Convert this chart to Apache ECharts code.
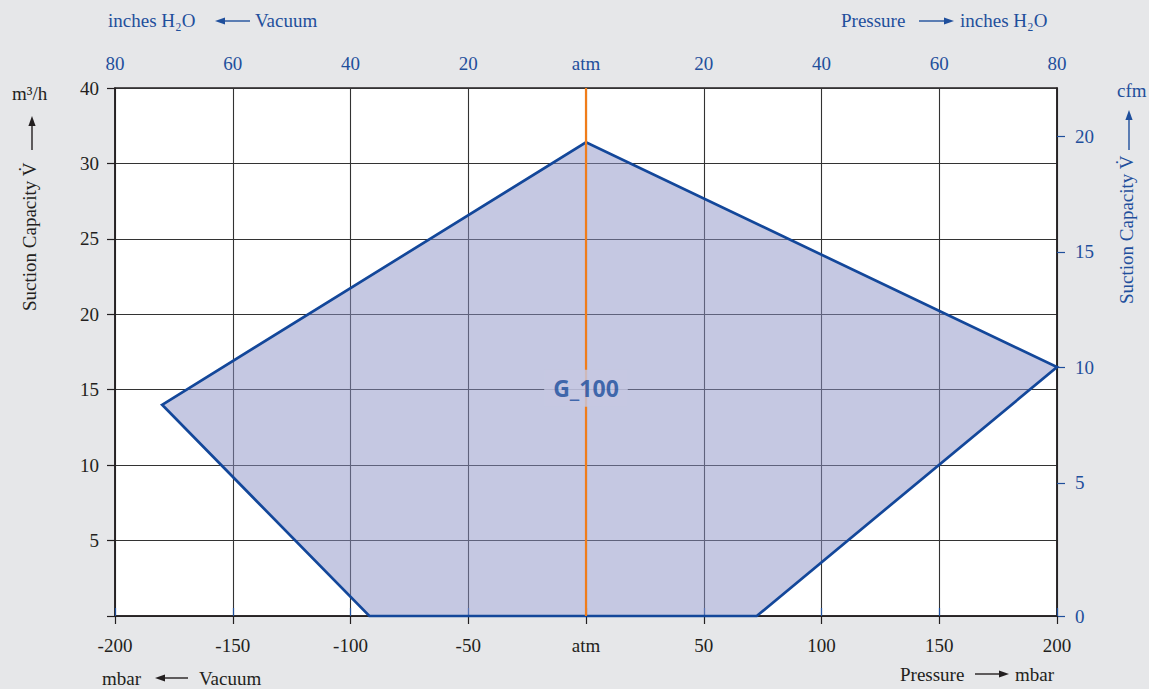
<!DOCTYPE html>
<html><head><meta charset="utf-8">
<script src="https://cdn.jsdelivr.net/npm/echarts@6/dist/echarts.min.js"></script>
<style>html,body{margin:0;padding:0;background:#e6e7e9;}#c{width:1149px;height:689px;}</style>
</head><body><div id="c"></div>
<script>
// ---- data ----
const envelopeMbar = [-180, 0, 200, 72.5, -92];
const envelopeM3h  = [14, 31.4, 16.5, 0, 0];
const atmLineMbar = [0, 0];
const atmLineM3h  = [0, 35];
const curveLabel = 'G_100';
const curveLabelPos = [0, 15.1];
const leftTickLabels = ['', '5', '10', '15', '20', '25', '30', '40']; // at 0,5,...,35
const cfmTickPos = [0, 8.83, 16.47, 24.13, 31.79];
const cfmTickLabels = ['0', '5', '10', '15', '20'];

const DARK = '#231f20', BLUE = '#1f4f9c', ORANGE = '#f07d1a';
const FONT = '"Liberation Serif", "DejaVu Serif", serif';
const FS = 19;

const chart = echarts.init(document.getElementById('c'), null, {renderer: 'svg'});

function txt(x, y, text, color, align, extra) {
  return Object.assign({type: 'text', x: x, y: y, silent: true,
    style: {text: text, fill: color, font: FS + 'px ' + FONT, align: align || 'left', verticalAlign: 'middle'}}, extra || {});
}
function hArrow(x1, x2, y, color) { // head at x2
  const dir = x2 > x1 ? 1 : -1;
  return {type: 'group', silent: true, children: [
    {type: 'line', shape: {x1: x1, y1: y, x2: x2 - dir * 8, y2: y}, style: {stroke: color, lineWidth: 1.4}},
    {type: 'polygon', shape: {points: [[x2, y], [x2 - dir * 10, y - 3.6], [x2 - dir * 10, y + 3.6]]}, style: {fill: color}}
  ]};
}
function vArrow(x, y1, y2, color) { // head at y2 (up)
  return {type: 'group', silent: true, children: [
    {type: 'line', shape: {x1: x, y1: y1, x2: x, y2: y2 + 8}, style: {stroke: color, lineWidth: 1.4}},
    {type: 'polygon', shape: {points: [[x, y2], [x - 3.6, y2 + 10], [x + 3.6, y2 + 10]]}, style: {fill: color}}
  ]};
}

const option = {
  backgroundColor: '#e6e7e9',
  animation: false,
  grid: {left: 115, right: 92, top: 88, bottom: 73, show: true, backgroundColor: '#ffffff', borderColor: DARK, borderWidth: 1.5},
  xAxis: [
    {type: 'value', position: 'bottom', min: -200, max: 200, interval: 50,
     axisLine: {show: true, onZero: false, lineStyle: {color: DARK, width: 1.5}},
     axisTick: {show: true, inside: false, length: 8, lineStyle: {color: DARK, width: 1.2}},
     axisLabel: {color: DARK, fontFamily: FONT, fontSize: FS, margin: 20,
       formatter: v => v === 0 ? 'atm' : String(v)},
     splitLine: {show: true, lineStyle: {color: '#333333', width: 1.1}}},
    {type: 'value', position: 'top', min: -80, max: 80, interval: 20,
     axisLine: {show: false},
     axisTick: {show: true, inside: false, length: 8, lineStyle: {color: BLUE, width: 1.2}},
     axisLabel: {color: BLUE, fontFamily: FONT, fontSize: FS, margin: 15,
       formatter: v => v === 0 ? 'atm' : String(Math.abs(v))},
     splitLine: {show: false}}
  ],
  yAxis: [
    {type: 'value', position: 'left', min: 0, max: 35, interval: 5,
     axisLine: {show: true, onZero: false, lineStyle: {color: DARK, width: 1.5}},
     axisTick: {show: true, inside: false, length: 8, lineStyle: {color: DARK, width: 1.2}},
     axisLabel: {color: DARK, fontFamily: FONT, fontSize: FS, margin: 16,
       formatter: v => leftTickLabels[Math.round(v / 5)] || ''},
     splitLine: {show: true, lineStyle: {color: '#333333', width: 1.1}}},
    {type: 'value', position: 'right', min: 0, max: 35,
     axisLine: {show: true, onZero: false, lineStyle: {color: DARK, width: 1.5}},
     axisTick: {show: true, inside: false, length: 8, customValues: cfmTickPos, lineStyle: {color: BLUE, width: 1.2}},
     axisLabel: {color: BLUE, fontFamily: FONT, fontSize: FS, margin: 18, customValues: cfmTickPos,
       formatter: v => { const i = cfmTickPos.findIndex(p => Math.abs(p - v) < 1e-6); return i >= 0 ? cfmTickLabels[i] : ''; }},
     splitLine: {show: false}}
  ],
  series: [
    {type: 'custom', name: curveLabel, xAxisIndex: 0, yAxisIndex: 0, z: 2,
     data: [[envelopeMbar[0], envelopeM3h[0]]],
     renderItem: function (params, api) {
       const pts = envelopeMbar.map((x, i) => api.coord([x, envelopeM3h[i]]));
       return {type: 'polygon', shape: {points: pts},
         style: {fill: 'rgba(139,145,197,0.5)', stroke: '#13479a', lineWidth: 2.7, lineJoin: 'miter'}};
     }},
    {type: 'line', xAxisIndex: 0, yAxisIndex: 0, z: 3, symbol: 'none',
     data: atmLineMbar.map((x, i) => [x, atmLineM3h[i]]),
     lineStyle: {color: ORANGE, width: 2.2}},
    {type: 'scatter', xAxisIndex: 0, yAxisIndex: 0, z: 5, symbolSize: 0,
     data: [curveLabelPos],
     label: {show: true, position: 'inside', formatter: curveLabel, color: '#1a4c9c',
       fontFamily: '"Noto Sans", sans-serif', fontWeight: 'bold', fontSize: 23,
       backgroundColor: '#c5c8e2', padding: [7, 9, 7, 9]}}
  ],
  graphic: [
    txt(108, 20, 'inches H₂O', BLUE), hArrow(250, 215, 21, BLUE), txt(255, 20, 'Vacuum', BLUE),
    txt(841, 20, 'Pressure', BLUE), hArrow(919, 954, 21, BLUE), txt(960, 20, 'inches H₂O', BLUE),
    txt(12, 93, 'm³/h', DARK),
    txt(1117, 90, 'cfm', BLUE),
    txt(29, 311, 'Suction Capacity V̇', DARK, 'left', {rotation: Math.PI / 2}), vArrow(32, 150, 116, DARK),
    txt(1126, 304, 'Suction Capacity V̇', BLUE, 'left', {rotation: Math.PI / 2}), vArrow(1129, 150, 110, BLUE),
    txt(102, 678, 'mbar', DARK), hArrow(188, 155, 678, DARK), txt(199, 678, 'Vacuum', DARK),
    txt(900, 674, 'Pressure', DARK), hArrow(975, 1009, 674, DARK), txt(1015, 674, 'mbar', DARK)
  ]
};
chart.setOption(option);
</script>
</body></html>
